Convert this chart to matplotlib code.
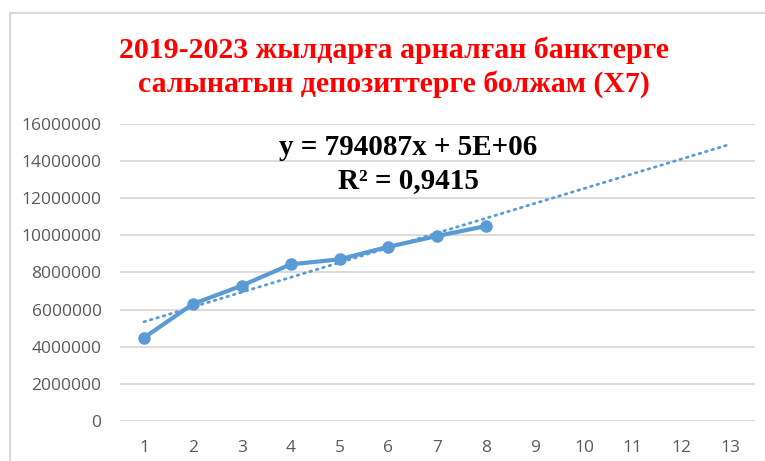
import matplotlib.pyplot as plt
import numpy as np
from matplotlib.patches import Rectangle

years = [1, 2, 3, 4, 5, 6, 7, 8]
deposits = [4480000, 6300000, 7290000, 8440000, 8710000, 9390000, 9970000, 10510000]
x_ticks = list(range(1, 14))
y_ticks = [0, 2000000, 4000000, 6000000, 8000000, 10000000, 12000000, 14000000, 16000000]

title = "2019-2023 жылдарға арналған банктерге\nсалынатын депозиттерге болжам (X7)"
blue = "#5B9BD5"
grid_gray = "#D9D9D9"
label_gray = "#595959"

fig = plt.figure(figsize=(7.65, 4.61), dpi=100)
ax = fig.add_axes([0.1563, 0.0874, 0.8307, 0.643])

# chart border (cropped at right and bottom like the source image)
fig.patches.append(Rectangle((10 / 765, -0.2), 1.2, 1 - 13 / 461 + 0.2,
                             transform=fig.transFigure, fill=False,
                             edgecolor=grid_gray, linewidth=1.5))

for t in y_ticks:
    ax.axhline(t, color=grid_gray, linewidth=1.3, zorder=0)

# linear trend line, extended to 13
slope, intercept = np.polyfit(years, deposits, 1)
xt = np.array([1, 13])
ax.plot(xt, slope * xt + intercept, color=blue, linewidth=2,
        linestyle=(0, (0.6, 1.8)), dash_capstyle="round", zorder=2)

ax.plot(years, deposits, color=blue, linewidth=3, marker="o",
        markersize=8, zorder=3)

ax.set_xlim(0.5, 13.5)
ax.set_ylim(0, 16000000)
ax.set_xticks(x_ticks)
ax.set_yticks(y_ticks)
ax.set_yticklabels([str(t) for t in y_ticks])
for s in ax.spines.values():
    s.set_visible(False)
ax.tick_params(length=0, labelcolor=label_gray, labelsize=12.5)
ax.tick_params(axis="x", pad=14)
ax.tick_params(axis="y", pad=13)
for lbl in ax.get_xticklabels() + ax.get_yticklabels():
    lbl.set_family("Open Sans")

fig.text(394 / 765, 1 - 67 / 461, title, ha="center", va="center",
         color="red", fontsize=21.5, fontweight="bold",
         family="Liberation Serif", linespacing=1.3)

ax.text(408 / 765, 1 - 164 / 461, "y = 794087x + 5E+06\nR² = 0,9415",
        transform=fig.transFigure, ha="center", va="center",
        fontsize=21, fontweight="bold", family="Liberation Serif",
        linespacing=1.25)

fig.savefig("out.png", dpi=100)
